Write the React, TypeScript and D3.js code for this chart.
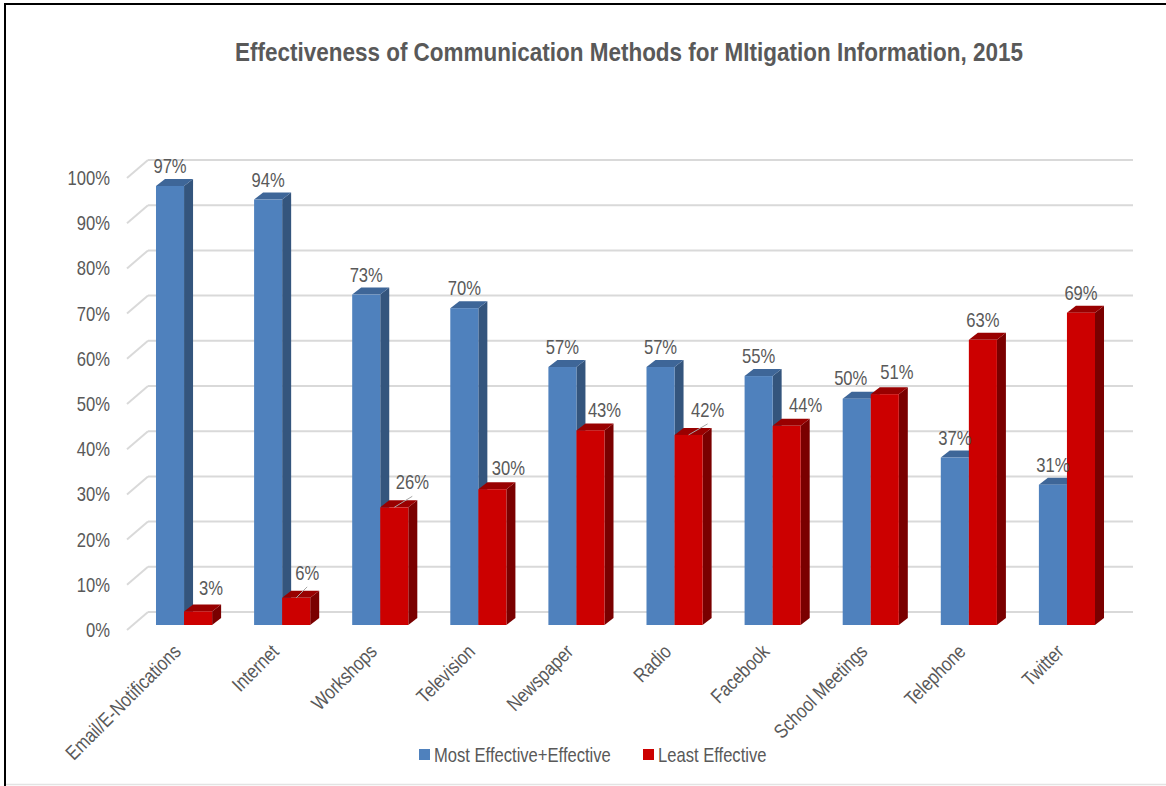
import React from "react";
import * as d3 from "d3";

const categories = [
  "Email/E-Notifications",
  "Internet",
  "Workshops",
  "Television",
  "Newspaper",
  "Radio",
  "Facebook",
  "School Meetings",
  "Telephone",
  "Twitter",
];
const seriesNames = ["Most Effective+Effective", "Least Effective"];
const mostEffective = [97, 94, 73, 70, 57, 57, 55, 50, 37, 31];
const leastEffective = [3, 6, 26, 30, 43, 42, 44, 51, 63, 69];
const yTicks = [0, 10, 20, 30, 40, 50, 60, 70, 80, 90, 100];
const title = "Effectiveness of Communication Methods for MItigation Information, 2015";

// label placement nudges (dx, dy) and leader-line flags, per series
const labelNudgeRed: [number, number, boolean][] = [
  [13, -3, false],
  [11, -5, true],
  [18, -5, true],
  [16, -1, false],
  [14, 0, false],
  [19, -5, true],
  [19, -1, false],
  [12, -2, false],
  [0, 0, false],
  [0, 0, false],
];
const labelNudgeBlue: [number, number, boolean][] = [
  [0, 0, false], [0, 0, false], [0, 0, false], [0, 0, false], [0, 0, false],
  [0, 0, false], [0, 0, false], [-6, -1, false], [0, 0, false], [0, 0, false],
];

const FONT = "'Liberation Sans Narrow', 'Arial Narrow', 'Liberation Sans', Arial, sans-serif";
const TXT = "#595959";
const GRID = "#d9d9d9";
const FS = 20;
const SX = 0.83; // horizontal condensing to mimic a narrow face

const colors = {
  blue: { front: "#4f81bd", side: "#34557d", top: "#3e6698" },
  red: { front: "#cc0000", side: "#7a0000", top: "#990000" },
};

function NText(props: {
  x: number;
  y: number;
  rotate?: number;
  anchor?: "start" | "middle" | "end";
  size?: number;
  children: React.ReactNode;
}) {
  const { x, y, rotate = 0, anchor = "start", size = FS, children } = props;
  return (
    <text
      transform={`translate(${x},${y}) rotate(${rotate}) scale(${SX},1)`}
      dy="0.35em"
      textAnchor={anchor}
      fontSize={size}
      fill={TXT}
      fontFamily={FONT}
    >
      {children}
    </text>
  );
}

export default function App() {
  const W = 1166, H = 786;
  // back wall
  const backX0 = 148, backX1 = 1133;
  const yBack = d3.scaleLinear().domain([0, 100]).range([612, 160]);
  const wallDx = -21, wallDy = 18;
  // bars (front face)
  const xGroup = d3.scaleBand<string>().domain(categories).range([135, 1116]).paddingInner(0.428).paddingOuter(0.214);
  const xSeries = d3.scaleBand<string>().domain(seriesNames).range([0, xGroup.bandwidth()]);
  const yBar = d3.scaleLinear().domain([0, 100]).range([625, 172.4]);
  const ddx = 9, ddy = -7;

  const series = [
    { name: seriesNames[0], values: mostEffective, c: colors.blue, nudge: labelNudgeBlue },
    { name: seriesNames[1], values: leastEffective, c: colors.red, nudge: labelNudgeRed },
  ];

  const bars: React.ReactNode[] = [];
  const labels: React.ReactNode[] = [];
  categories.forEach((cat, i) => {
    series.forEach((s, si) => {
      const v = s.values[i];
      const x = (xGroup(cat) as number) + (xSeries(s.name) as number);
      const w = xSeries.bandwidth();
      const yt = yBar(v);
      const yb = yBar(0);
      const top = `${x},${yt} ${x + w},${yt} ${x + w + ddx},${yt + ddy} ${x + ddx},${yt + ddy}`;
      const side = `${x + w},${yt} ${x + w + ddx},${yt + ddy} ${x + w + ddx},${yb + ddy} ${x + w},${yb}`;
      bars.push(
        <g key={`b${i}-${si}`}>
          <polygon points={side} fill={s.c.side} />
          <polygon points={top} fill={s.c.top} />
          <rect x={x} y={yt} width={w} height={yb - yt} fill={s.c.front} />
        </g>
      );
      const [ndx, ndy, leader] = s.nudge[i];
      const cx = x + w / 2;
      const lx = cx + ndx;
      const ly = yt - 20 + ndy;
      labels.push(
        <g key={`l${i}-${si}`}>
          {leader && (
            <line x1={cx} y1={yt} x2={lx} y2={ly + 14} stroke="#a6a6a6" strokeWidth={1} />
          )}
          <NText x={lx} y={ly} anchor="middle">{`${v}%`}</NText>
        </g>
      );
    });
  });

  return (
    <svg width={W} height={H} style={{ position: "absolute", left: 0, top: 0, display: "block", background: "#fff" }}>
      <rect x={0} y={0} width={W} height={H} fill="#fff" />
      {/* frame */}
      <line x1={5} y1={4} x2={W} y2={4} stroke="#000" strokeWidth={2} />
      <line x1={5} y1={3} x2={5} y2={H} stroke="#000" strokeWidth={2} />
      <line x1={6} y1={784.5} x2={W} y2={784.5} stroke="#e3e3e3" strokeWidth={1.5} />

      <text
        x={629}
        y={61}
        textAnchor="middle"
        fontSize={26}
        fontWeight="bold"
        fill={TXT}
        fontFamily={FONT}
        textLength={788}
        lengthAdjust="spacingAndGlyphs"
      >
        {title}
      </text>

      {/* gridlines */}
      {yTicks.map((t) => (
        <g key={`g${t}`}>
          <line x1={backX0} y1={yBack(t)} x2={backX1} y2={yBack(t)} stroke={GRID} strokeWidth={2} />
          <line x1={backX0 + wallDx} y1={yBack(t) + wallDy} x2={backX0} y2={yBack(t)} stroke={GRID} strokeWidth={2} />
          <NText x={110} y={yBack(t) + wallDy} anchor="end">{`${t}%`}</NText>
        </g>
      ))}

      {bars}
      {labels}

      {/* category labels */}
      {categories.map((cat) => {
        const cx = (xGroup(cat) as number) + xGroup.bandwidth() / 2;
        return (
          <NText key={`c${cat}`} x={cx - 7} y={648} rotate={-45} anchor="end">
            {cat}
          </NText>
        );
      })}

      {/* legend */}
      <rect x={419} y={749} width={11} height={11} fill={colors.blue.front} />
      <NText x={434} y={754.5}>{seriesNames[0]}</NText>
      <rect x={643} y={749} width={11} height={11} fill={colors.red.front} />
      <NText x={658} y={754.5}>{seriesNames[1]}</NText>
    </svg>
  );
}
